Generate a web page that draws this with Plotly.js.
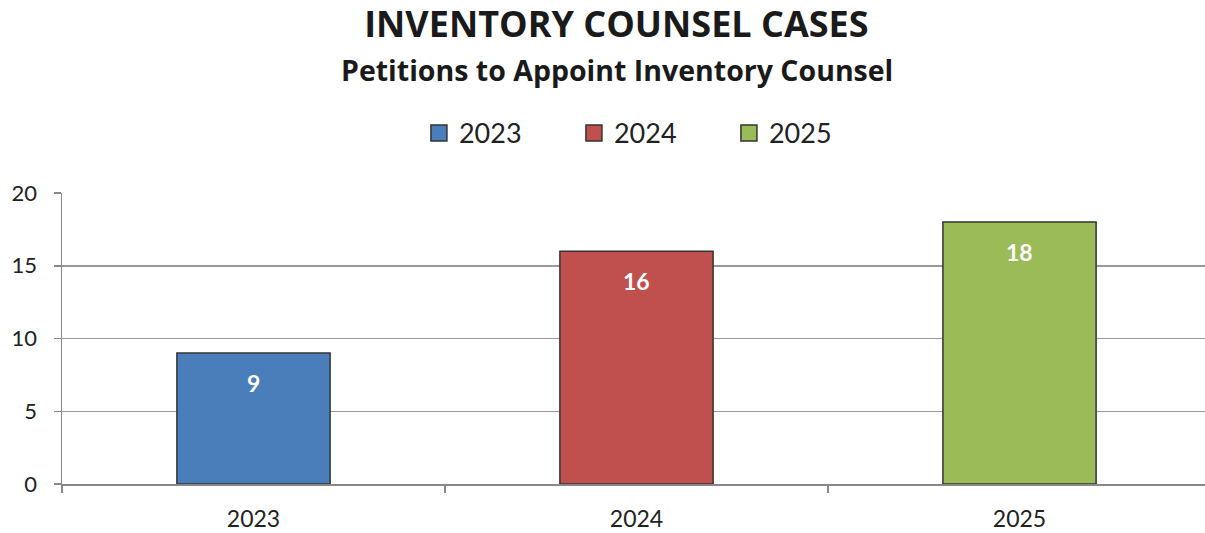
<!DOCTYPE html>
<html>
<head>
<meta charset="utf-8">
<script src="https://cdn.plot.ly/plotly-3.0.1.min.js"></script>
<style>html,body{margin:0;padding:0;overflow:hidden;background:#fff;}#chart{width:1211px;height:533px;}</style>
</head>
<body>
<div id="chart"></div>
<script>
const categories = ['2023', '2024', '2025'];
const values = [9, 16, 18];
const seriesNames = ['2023', '2024', '2025'];
const colors = ['#4A7EBB', '#C0504D', '#9BBB59'];
const yTicks = [0, 5, 10, 15, 20];
const titleText = 'INVENTORY COUNSEL CASES';
const subtitleText = 'Petitions to Appoint Inventory Counsel';

const FONT = 'Lato, "Open Sans", sans-serif';

const barTraces = seriesNames.map((name, i) => ({
  type: 'bar',
  name: name,
  x: [categories[i]],
  y: [values[i]],
  marker: {color: colors[i], line: {color: '#333333', width: 1.5}},
  showlegend: false,
  hoverinfo: 'x+y'
}));
const legendTraces = seriesNames.map((name, i) => ({
  type: 'scatter', mode: 'markers',
  name: name,
  x: [categories[i]],
  y: [null],
  marker: {symbol: 'square', size: 17, color: colors[i], line: {color: '#333333', width: 1.5}},
  hoverinfo: 'skip'
}));

const annotations = categories.map((c, i) => ({
  x: i, y: values[i], xref: 'x', yref: 'y',
  text: '<b>' + values[i] + '</b>', showarrow: false,
  yshift: -30, font: {family: FONT, size: 23, color: '#ffffff'}
}));
annotations.push({
  xref: 'paper', yref: 'paper', x: 0.5, y: 1, yanchor: 'middle',
  xshift: -20, yshift: 123,
  text: '<b>' + subtitleText + '</b>', showarrow: false,
  font: {family: '"Open Sans", sans-serif', size: 28.5, color: '#1a1a1a'}
});

const layout = {
  width: 1211, height: 533,
  margin: {l: 62, r: 0, t: 193, b: 49},
  paper_bgcolor: '#ffffff', plot_bgcolor: '#ffffff',
  title: {text: '<b>' + titleText + '</b>', x: 0.4825, xanchor: 'center', xref: 'paper', y: 0.955, yanchor: 'middle',
    font: {family: '"Open Sans", sans-serif', size: 36, color: '#1a1a1a'}},
  barmode: 'relative',
  bargap: 0.6,
  showlegend: true,
  legend: {orientation: 'h', x: 0.513, xanchor: 'center', xref: 'paper', y: 1.205, yanchor: 'middle',
    font: {family: FONT, size: 27, color: '#222222'}, entrywidth: 110, entrywidthmode: 'pixels',
    itemwidth: 30, traceorder: 'normal'},
  xaxis: {type: 'category', categoryorder: 'array', categoryarray: categories, range: [-0.5, 2.5],
    tickson: 'boundaries', ticks: 'outside', ticklen: 7,
    tickcolor: '#888888', tickwidth: 1.5, showline: true, linecolor: '#888888', linewidth: 1.5,
    showgrid: false, zeroline: false, tickfont: {family: FONT, size: 23, color: '#222222'}, ticklabelstandoff: 14,
    fixedrange: true},
  yaxis: {range: [0, 20], tickvals: yTicks, ticks: 'outside', ticklen: 7, tickcolor: '#888888', tickwidth: 1.5,
    showline: true, linecolor: '#888888', linewidth: 1.5, showgrid: true, gridcolor: '#999999', gridwidth: 1.5,
    zeroline: false, tickfont: {family: FONT, size: 22, color: '#222222'}, ticklabelstandoff: 12, fixedrange: true},
  annotations: annotations
};

Plotly.newPlot('chart', barTraces.concat(legendTraces), layout, {displayModeBar: false, staticPlot: true});
</script>
</body>
</html>
